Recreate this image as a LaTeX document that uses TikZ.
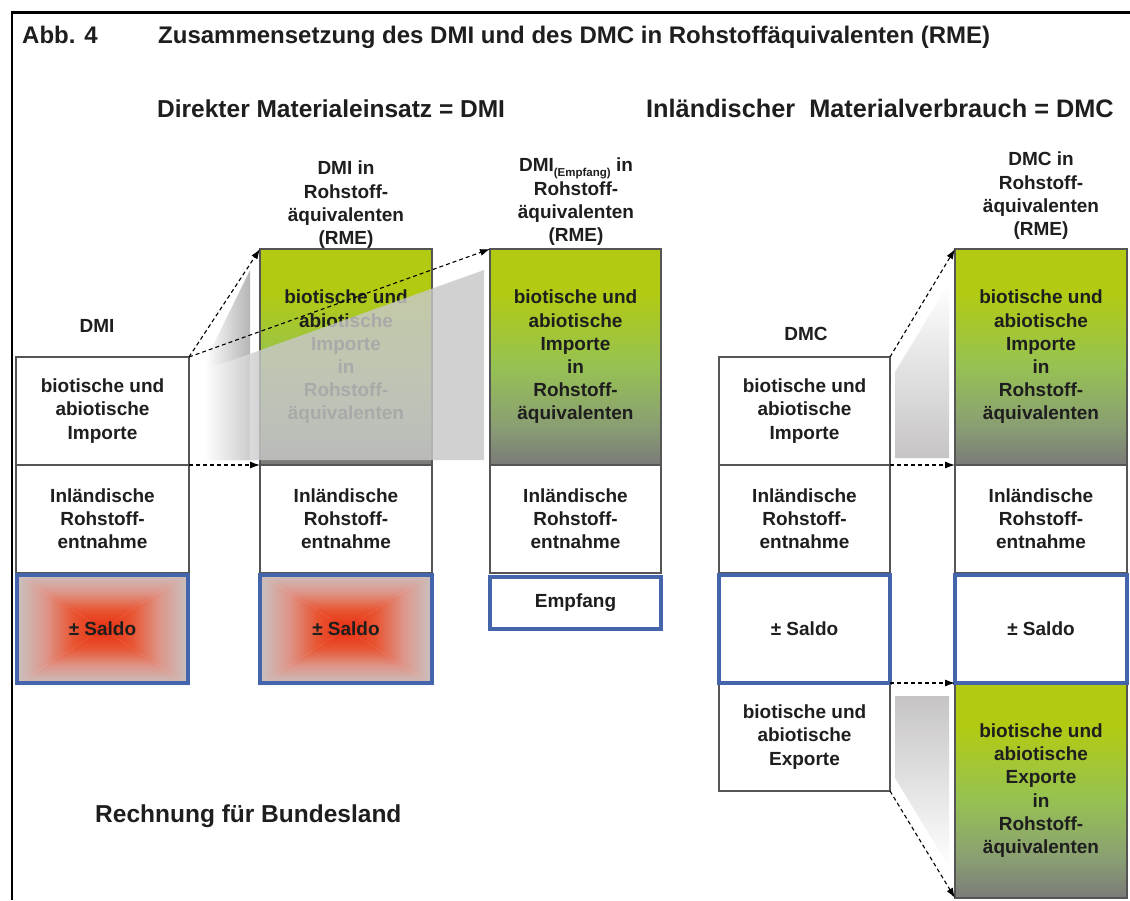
\documentclass[tikz,border=0pt]{standalone}
\usepackage{fontspec}
\setmainfont{Liberation Sans}
\usetikzlibrary{arrows.meta,backgrounds}

\definecolor{txt}{RGB}{30,30,30}
\definecolor{boxgray}{RGB}{85,85,85}
\definecolor{sblue}{RGB}{68,100,172}
\definecolor{gTop}{RGB}{178,203,18}
\definecolor{gMid}{RGB}{150,194,82}
\definecolor{gLow}{RGB}{138,158,115}
\definecolor{gBot}{RGB}{122,122,120}
\definecolor{sGray}{RGB}{200,195,195}
\definecolor{sPink}{RGB}{222,150,138}
\definecolor{sOr}{RGB}{232,85,50}
\definecolor{sRed}{RGB}{232,45,15}
\definecolor{fadeGray}{RGB}{198,196,196}
\definecolor{ovlGray}{RGB}{200,200,200}

\pgfdeclareverticalshading{greenV}{100bp}{color(0bp)=(gBot); color(25bp)=(gBot); color(34bp)=(gLow); color(48bp)=(gMid); color(65bp)=(gTop); color(75bp)=(gTop); color(100bp)=(gTop)}
\pgfdeclareverticalshading{salT}{100bp}{color(0bp)=(sRed); color(25bp)=(sRed); color(42bp)=(sOr); color(58bp)=(sPink); color(75bp)=(sGray); color(100bp)=(sGray)}
\pgfdeclareverticalshading{salB}{100bp}{color(0bp)=(sGray); color(25bp)=(sGray); color(42bp)=(sPink); color(58bp)=(sOr); color(75bp)=(sRed); color(100bp)=(sRed)}
\pgfdeclarehorizontalshading{salL}{100bp}{color(0bp)=(sGray); color(25bp)=(sGray); color(42bp)=(sPink); color(58bp)=(sOr); color(75bp)=(sRed); color(100bp)=(sRed)}
\pgfdeclarehorizontalshading{salR}{100bp}{color(0bp)=(sRed); color(25bp)=(sRed); color(42bp)=(sOr); color(58bp)=(sPink); color(75bp)=(sGray); color(100bp)=(sGray)}
\pgfdeclarehorizontalshading{ovlH}{100bp}{color(0bp)=(white); color(25bp)=(white); color(35bp)=(ovlGray); color(100bp)=(ovlGray)}
\pgfdeclarehorizontalshading{fadeH}{100bp}{color(0bp)=(white); color(25bp)=(white); color(75bp)=(fadeGray!92!black); color(100bp)=(fadeGray!92!black)}
\pgfdeclareverticalshading{fadeUp}{100bp}{color(0bp)=(fadeGray); color(25bp)=(fadeGray); color(75bp)=(white); color(100bp)=(white)}
\pgfdeclareverticalshading{fadeDown}{100bp}{color(0bp)=(white); color(25bp)=(white); color(75bp)=(fadeGray); color(100bp)=(fadeGray)}

\newcommand{\bxfont}{\bfseries\fontsize{19}{23.2}\selectfont}
\newcommand{\hdfont}{\bfseries\fontsize{24.5}{28}\selectfont}
\newcommand{\ttlfont}{\bfseries\fontsize{24}{28}\selectfont}

\newcommand{\salshade}[4]{%
  \pgfmathsetmacro{\salcx}{(#1+#3)/2}%
  \pgfmathsetmacro{\salcy}{(#2+#4)/2}%
  \shade[shading=salT] (#1,#2) -- (#3,#2) -- (\salcx,\salcy) -- cycle;
  \shade[shading=salB] (#1,#4) -- (#3,#4) -- (\salcx,\salcy) -- cycle;
  \shade[shading=salL] (#1,#2) -- (#1,#4) -- (\salcx,\salcy) -- cycle;
  \shade[shading=salR] (#3,#2) -- (#3,#4) -- (\salcx,\salcy) -- cycle;
}

\tikzset{
  box/.style={draw=boxgray, line width=1.1pt, fill=white, anchor=north west,
    inner sep=0pt, outer sep=0pt, align=center, font=\bxfont, text=txt},
  greenbox/.style={box, fill=none, shade, shading=greenV},
  saldo/.style={draw=sblue, line width=4pt, anchor=north west,
    inner sep=0pt, outer sep=0pt, align=center, font=\bxfont, text=txt},
  lab/.style={font=\bxfont, text=txt, align=center, inner sep=0pt},
  hd/.style={text=txt, inner sep=0pt, anchor=base west},
  darr/.style={draw=black, line width=1.1pt, dash pattern=on 4pt off 3pt,
    -{Latex[length=10pt,width=7pt]}},
  conn/.style={draw=black, line width=1.8pt},
}

\begin{document}
\begin{tikzpicture}[x=1pt,y=-1pt]
\useasboundingbox (0,0) rectangle (1130,900);
\fill[white] (0,0) rectangle (1130,900);

% frame
\draw[line width=2.2pt] (1130,12.5) -- (12,12.5) -- (12,900);

% titles
\node[hd, font=\ttlfont] (abb) at (22,43) {Abb. 4};
\node[hd, font=\ttlfont] (title) at (158,43) {Zusammensetzung des DMI und des DMC in Rohstoffäquivalenten (RME)};
\node[hd, font=\hdfont] (hdmi) at (157,117) {Direkter Materialeinsatz = DMI};
\node[hd, font=\bfseries\fontsize{25.3}{28}\selectfont] (hdmc) at (646,117) {Inländischer\ \ Materialverbrauch = DMC};
\node[hd, font=\hdfont] (rech) at (95,822) {Rechnung für Bundesland};

% fade shapes
\shade[shading=fadeH] (205,460) -- (205,362) -- (250,270) -- (250,460) -- cycle;
\shade[shading=fadeUp] (895,458) -- (895,372) -- (949,283) -- (949,458) -- cycle;
\shade[shading=fadeDown] (895,696) -- (949,696) -- (949,867) -- (895,778) -- cycle;

% saldo fills
\salshade{16}{573}{189}{685}
\salshade{259}{573}{433}{685}

% column headings
\node[lab, anchor=base] (ldmi) at (97,332) {DMI};
\node[lab, anchor=base] (ldmc) at (806,340) {DMC};
\node[lab, anchor=north] (h2) at (346,161) {DMI in\\Rohstoff-\\äquivalenten\\(RME)};
\node[lab, anchor=north] (h3) at (576,158) {DMI\raisebox{-0.45ex}{\fontsize{11.5}{12}\selectfont (Empfang)} in\\Rohstoff-\\äquivalenten\\(RME)};
\node[lab, anchor=north] (h5) at (1041,152) {DMC in\\Rohstoff-\\äquivalenten\\(RME)};

% column 1
\node[box, minimum width=173pt, minimum height=108pt] (imp1) at (16,357) {biotische und\\abiotische\\Importe};
\node[box, minimum width=173pt, minimum height=108pt] (inl1) at (16,465) {Inländische\\Rohstoff-\\entnahme};
\node[saldo, minimum width=171pt, minimum height=108pt] (sal1) at (17,575) {± Saldo};

% column 2
\node[greenbox, minimum width=172pt, minimum height=216pt] (gr2) at (260,249) {biotische und\\abiotische\\Importe\\in\\Rohstoff-\\äquivalenten};
\node[box, minimum width=172pt, minimum height=108pt] (inl2) at (260,465) {Inländische\\Rohstoff-\\entnahme};
\node[saldo, minimum width=172pt, minimum height=108pt] (sal2) at (260,575) {± Saldo};

% column 3
\node[greenbox, minimum width=171pt, minimum height=216pt] (gr3) at (490,249) {biotische und\\abiotische\\Importe\\in\\Rohstoff-\\äquivalenten};
\node[box, minimum width=171pt, minimum height=108pt] (inl3) at (490,465) {Inländische\\Rohstoff-\\entnahme};
\node[saldo, fill=white, minimum width=171pt, minimum height=52pt] (emp3) at (490,577) {Empfang};

% column 4
\node[box, minimum width=171pt, minimum height=108pt] (imp4) at (719,357) {biotische und\\abiotische\\Importe};
\node[box, minimum width=171pt, minimum height=108pt] (inl4) at (719,465) {Inländische\\Rohstoff-\\entnahme};
\node[box, minimum width=171pt, minimum height=108pt] (exp4) at (719,683) {biotische und\\abiotische\\Exporte};
\node[saldo, fill=white, minimum width=171pt, minimum height=108pt] (sal4) at (719,575) {± Saldo};

% column 5
\node[greenbox, minimum width=172pt, minimum height=216pt] (gr5) at (955,249) {biotische und\\abiotische\\Importe\\in\\Rohstoff-\\äquivalenten};
\node[box, minimum width=172pt, minimum height=108pt] (inl5) at (955,465) {Inländische\\Rohstoff-\\entnahme};
\node[greenbox, minimum width=172pt, minimum height=215pt] (exg5) at (955,683) {biotische und\\abiotische\\Exporte\\in\\Rohstoff-\\äquivalenten};
\node[saldo, fill=white, minimum width=172pt, minimum height=108pt] (sal5) at (955,575) {± Saldo};

% translucent overlay
\shade[shading=ovlH, fill opacity=0.82] (205,370) -- (484,270) -- (484,460) -- (205,460) -- cycle;

% dashed arrows
\draw[darr] (imp1.north east) -- (gr2.north west);
\draw[darr] (imp1.north east) -- (gr3.north west);
\draw[darr] (imp1.south east) -- (inl2.north west);
\draw[darr] (imp4.north east) -- (gr5.north west);
\draw[darr] (imp4.south east) -- (inl5.north west);
\draw[darr] (exp4.north east) -- (exg5.north west);
\draw[darr] (exp4.south east) -- (exg5.south west);

% connectors
\begin{scope}[on background layer]
\draw[conn] (sal1.east) -- (sal2.west);
\draw[conn] (sal2.east) -- (sal4.west);
\draw[conn] (sal4.east) -- (sal5.west);
\end{scope}
\end{tikzpicture}
\end{document}
